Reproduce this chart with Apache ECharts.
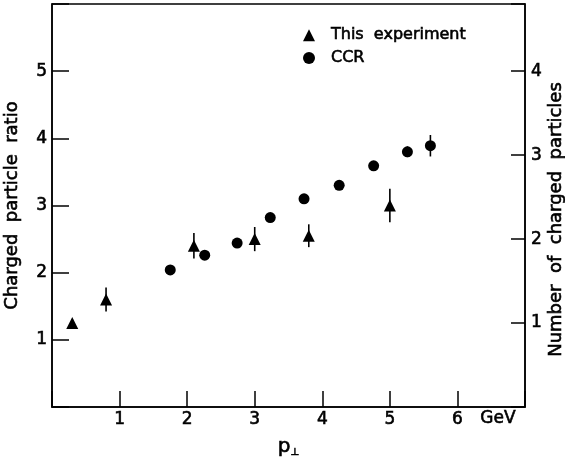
<!DOCTYPE html>
<html>
<head>
<meta charset="utf-8">
<script src="https://cdn.jsdelivr.net/npm/echarts@6/dist/echarts.min.js"></script>
<style>html,body{margin:0;padding:0;background:#fff}#c{width:565px;height:461px}</style>
</head>
<body>
<div id="c"></div>
<script>
// This experiment (triangles)
var expX   = [0.30, 0.80, 2.10, 3.00, 3.80, 5.00];
var expY   = [1.25, 1.60, 2.40, 2.50, 2.55, 3.00];
var expErr = [0.06, 0.18, 0.19, 0.18, 0.17, 0.25];
// CCR (circles)
var ccrX   = [1.75, 2.26, 2.74, 3.23, 3.73, 4.25, 4.76, 5.26, 5.60];
var ccrY   = [2.04, 2.26, 2.44, 2.82, 3.10, 3.30, 3.59, 3.80, 3.89];
var ccrErr = [0, 0, 0, 0, 0, 0, 0, 0.08, 0.16];
// Axis ticks
var xTicks = [1, 2, 3, 4, 5, 6];
var yLeftTicks = [1, 2, 3, 4, 5];
var yRightTicks = [1, 2, 3, 4];

var FONT = 'DejaVu Sans';
var BW = 0.6; // slight stroke to mimic the heavier original lettering
function zip3(a, b, c) { return a.map(function (v, i) { return [v, b[i], c[i]]; }); }
function inList(list) { return function (v) { return list.indexOf(Math.round(v * 1000) / 1000) >= 0 ? String(v) : ''; }; }
function ts(size, extra) {
  var o = { fontFamily: FONT, fontSize: size, color: '#000', textBorderColor: '#000', textBorderWidth: BW };
  for (var k in extra) o[k] = extra[k];
  return o;
}

function errRender(params, api) {
  var x = api.value(0), y = api.value(1), e = api.value(2);
  if (!e) return null;
  var p1 = api.coord([x, y - e]), p2 = api.coord([x, y + e]);
  return { type: 'line', shape: { x1: p1[0], y1: p1[1], x2: p2[0], y2: p2[1] },
           style: { stroke: '#000', lineWidth: 1.6 } };
}

var chart = echarts.init(document.getElementById('c'), null, { renderer: 'canvas' });
chart.setOption({
  backgroundColor: '#fff',
  animation: false,
  grid: { left: 52, right: 40, top: 4, bottom: 54, show: true, borderColor: '#000', borderWidth: 1.5,
          backgroundColor: 'transparent', outerBoundsMode: 'none' },
  legend: {
    orient: 'vertical', left: 298, top: 22, itemWidth: 12, itemHeight: 12, itemGap: 6,
    data: ['This  experiment', 'CCR'],
    textStyle: ts(16, { padding: [0, 0, 0, 11] })
  },
  xAxis: {
    type: 'value', min: 0, max: 7, interval: 1,
    name: '{p|p}{s|⊥}', nameLocation: 'middle', nameGap: 30, nameMoveOverlap: false,
    nameTextStyle: { rich: { p: ts(20), s: ts(10, { verticalAlign: 'bottom', padding: [10, 0, 0, 0] }) } },
    axisLine: { lineStyle: { color: '#000', width: 1.5 } },
    axisTick: { inside: true, length: 16, lineStyle: { color: '#000', width: 1.5 } },
    axisLabel: ts(17, { margin: 4, formatter: inList(xTicks) }),
    splitLine: { show: false }
  },
  yAxis: [{
    type: 'value', min: 0, max: 6, interval: 1, position: 'left',
    name: 'Charged  particle  ratio', nameLocation: 'middle', nameRotate: 90, nameGap: 31, nameMoveOverlap: false,
    nameTextStyle: ts(18),
    axisLine: { lineStyle: { color: '#000', width: 1.5 } },
    axisTick: { inside: true, length: 17, lineStyle: { color: '#000', width: 1.5 } },
    axisLabel: ts(17, { margin: 5, formatter: inList(yLeftTicks) }),
    splitLine: { show: false }
  }, {
    type: 'value', min: 0, max: 4.8, interval: 1, position: 'right',
    name: 'Number  of  charged  particles', nameLocation: 'middle', nameRotate: 90, nameGap: 22, nameMoveOverlap: false,
    nameTextStyle: ts(18, { padding: [0, 28, 0, 0] }),
    axisLine: { lineStyle: { color: '#000', width: 1.5 } },
    axisTick: { inside: true, length: 14, lineStyle: { color: '#000', width: 1.5 } },
    axisLabel: ts(17, { margin: 6, formatter: inList(yRightTicks) }),
    splitLine: { show: false }
  }],
  graphic: [{
    type: 'text', left: 480, top: 410,
    style: { text: 'GeV', fontFamily: FONT, fontSize: 17, fill: '#000', stroke: '#000', lineWidth: BW }
  }],
  series: [
    { type: 'custom', name: 'expErr', renderItem: errRender, data: zip3(expX, expY, expErr), z: 1, silent: true },
    { type: 'custom', name: 'ccrErr', renderItem: errRender, data: zip3(ccrX, ccrY, ccrErr), z: 1, silent: true },
    { type: 'scatter', name: 'This  experiment', symbol: 'triangle', symbolSize: 12,
      itemStyle: { color: '#000', opacity: 1 }, data: expX.map(function (v, i) { return [v, expY[i]]; }), z: 3 },
    { type: 'scatter', name: 'CCR', symbol: 'circle', symbolSize: 11,
      itemStyle: { color: '#000', opacity: 1 }, data: ccrX.map(function (v, i) { return [v, ccrY[i]]; }), z: 3 }
  ]
});
</script>
</body>
</html>
